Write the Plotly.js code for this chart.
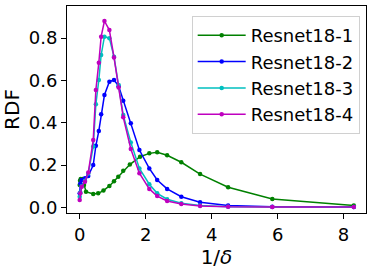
<!DOCTYPE html>
<html><head><meta charset="utf-8">
<script src="https://cdn.plot.ly/plotly-3.0.1.min.js"></script>
<style>html,body{margin:0;padding:0;background:#fff}#c{width:375px;height:270px}</style>
</head><body><div id="c"></div>
<script>
var seriesNames = ["Resnet18-1", "Resnet18-2", "Resnet18-3", "Resnet18-4"];
var seriesColors = ["#008000", "#0000ff", "#00bfbf", "#bf00bf"];
var xGreen = [0.0, 0.01, 0.03, 0.09, 0.13, 0.19, 0.41, 0.56, 0.72, 0.90, 1.04, 1.17, 1.32, 1.52, 1.83, 2.11, 2.35, 2.65, 3.08, 3.65, 4.50, 5.84, 8.31];
var yGreen = [0.105, 0.125, 0.134, 0.134, 0.105, 0.074, 0.063, 0.066, 0.079, 0.101, 0.123, 0.145, 0.173, 0.202, 0.239, 0.255, 0.260, 0.246, 0.213, 0.157, 0.095, 0.039, 0.008];
var xOther = [0.0, 0.02, 0.06, 0.16, 0.26, 0.41, 0.49, 0.58, 0.65, 0.75, 0.90, 1.04, 1.18, 1.32, 1.55, 1.81, 2.11, 2.35, 2.65, 3.08, 3.65, 4.50, 5.84, 8.31];
var yBlue = [0.066, 0.113, 0.129, 0.137, 0.148, 0.200, 0.291, 0.361, 0.440, 0.531, 0.594, 0.602, 0.573, 0.504, 0.397, 0.271, 0.184, 0.129, 0.087, 0.050, 0.024, 0.008, 0.003, 0.001];
var yCyan = [0.050, 0.070, 0.100, 0.125, 0.160, 0.287, 0.487, 0.602, 0.720, 0.807, 0.800, 0.712, 0.578, 0.436, 0.307, 0.184, 0.109, 0.066, 0.038, 0.019, 0.008, 0.003, 0.001, 0.001];
var yMagenta = [0.035, 0.066, 0.097, 0.121, 0.164, 0.318, 0.555, 0.684, 0.807, 0.881, 0.838, 0.709, 0.567, 0.426, 0.276, 0.161, 0.087, 0.053, 0.030, 0.016, 0.006, 0.002, 0.001, 0.001];
var xTicks = [0, 2, 4, 6, 8];
var yTicks = [0.0, 0.2, 0.4, 0.6, 0.8];
var yTickText = ["0.0", "0.2", "0.4", "0.6", "0.8"];

var xs = [xGreen, xOther, xOther, xOther];
var ys = [yGreen, yBlue, yCyan, yMagenta];
var traces = seriesNames.map(function(n, i){
  return {x: xs[i], y: ys[i], name: n, legendgroup: "g" + i, type: "scatter", mode: "lines+markers",
    line: {color: seriesColors[i], width: 1.5}, marker: {color: seriesColors[i], size: 4.5}};
});
var font = "DejaVu Sans, sans-serif";
var layout = {
  width: 375, height: 270,
  margin: {l: 67, r: 9, t: 6, b: 57},
  paper_bgcolor: "#fff", plot_bgcolor: "#fff",
  font: {family: font, size: 18, color: "#000"},
  xaxis: {range: [-0.385, 8.68], tickvals: xTicks, ticks: "outside", ticklen: 5, tickcolor: "#000",
    showgrid: false, zeroline: false, showline: true, mirror: true, linecolor: "#000", linewidth: 1,
    tickfont: {size: 18, family: font}, title: {text: "1/<i>δ</i>", font: {size: 20, family: font}, standoff: 2}},
  yaxis: {range: [-0.027, 0.952], tickvals: yTicks, ticktext: yTickText, ticks: "outside", ticklen: 5, tickcolor: "#000",
    showgrid: false, zeroline: false, showline: true, mirror: true, linecolor: "#000", linewidth: 1,
    tickfont: {size: 18, family: font}, title: {text: "RDF", font: {size: 20, family: font}, standoff: 6}},
  legend: {x: 0.417, y: 0.952, xanchor: "left", yanchor: "top", bgcolor: "rgba(255,255,255,0.8)",
    bordercolor: "#d0d0d0", borderwidth: 1, font: {size: 18, family: font},
    itemwidth: 48, tracegroupgap: 0},
  showlegend: true
};
Plotly.newPlot("c", traces, layout, {displayModeBar: false, staticPlot: true});
</script></body></html>
